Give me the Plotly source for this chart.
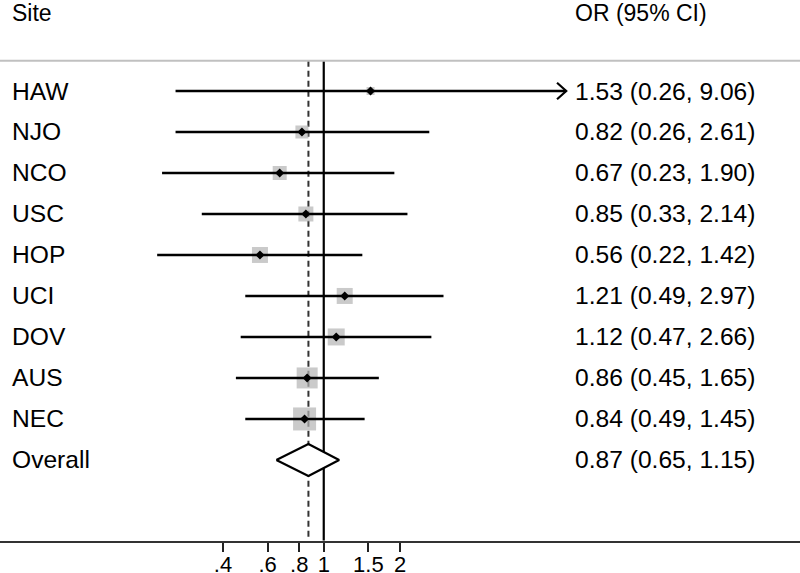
import plotly.graph_objects as go

# Forest plot data
sites = ["HAW", "NJO", "NCO", "USC", "HOP", "UCI", "DOV", "AUS", "NEC"]
odds = [1.53, 0.82, 0.67, 0.85, 0.56, 1.21, 1.12, 0.86, 0.84]
lower = [0.26, 0.26, 0.23, 0.33, 0.22, 0.49, 0.47, 0.45, 0.49]
upper = [9.06, 2.61, 1.90, 2.14, 1.42, 2.97, 2.66, 1.65, 1.45]
box_size = [8, 13, 14, 15, 16, 16, 17, 21, 23]   # study weights -> marker size

overall_label = "Overall"
overall_or, overall_lo, overall_hi = 0.87, 0.65, 1.15

tick_vals = [0.4, 0.6, 0.8, 1, 1.5, 2]
tick_text = [".4", ".6", ".8", "1", "1.5", "2"]

arrow_at = 8.0   # CIs wider than this get an arrow head

FONT = "Liberation Sans, Arial, sans-serif"
rows = list(range(len(sites)))
overall_row = len(sites)
top_rule = -0.74
y_bottom = 10.97

fig = go.Figure()

# reference lines: null effect (solid) and overall estimate (dashed)
fig.add_trace(go.Scatter(x=[1, 1], y=[top_rule, y_bottom], mode="lines",
                         line=dict(color="black", width=2.2), hoverinfo="skip"))
fig.add_trace(go.Scatter(x=[overall_or, overall_or], y=[top_rule, y_bottom], mode="lines",
                         line=dict(color="#333333", width=2, dash="6px,4px"), hoverinfo="skip"))

# weight boxes
fig.add_trace(go.Scatter(x=odds, y=rows, mode="markers",
                         marker=dict(symbol="square", size=box_size, color="#b4b4b4",
                                     line=dict(width=0)),
                         hoverinfo="skip"))

# confidence intervals
for i, (lo, hi) in enumerate(zip(lower, upper)):
    fig.add_trace(go.Scatter(x=[lo, hi], y=[i, i], mode="lines",
                             line=dict(color="black", width=2.5), hoverinfo="skip"))
    if hi > arrow_at:
        fig.add_trace(go.Scatter(x=[hi * 0.92, hi, hi * 0.92], y=[i - 0.2, i, i + 0.2],
                                 mode="lines", line=dict(color="black", width=2.2),
                                 hoverinfo="skip"))

# point estimates
fig.add_trace(go.Scatter(x=odds, y=rows, mode="markers",
                         marker=dict(symbol="diamond", size=7, color="black"),
                         hoverinfo="skip"))

# overall diamond
h = 0.39
fig.add_trace(go.Scatter(
    x=[overall_lo, overall_or, overall_hi, overall_or, overall_lo],
    y=[overall_row, overall_row - h, overall_row, overall_row + h, overall_row],
    mode="lines", fill="toself", fillcolor="white",
    line=dict(color="black", width=2.2), hoverinfo="skip"))

# header rule
fig.add_shape(type="line", xref="paper", x0=0, x1=1, yref="y", y0=top_rule, y1=top_rule,
              line=dict(color="#c0c0c0", width=2))

# text columns
ann = []
ann.append(dict(text="Site", x=10 / 800, y=-1.9, font_size=23))
ann.append(dict(text="OR (95% CI)", x=573 / 800, y=-1.9, font_size=23))
labels = sites + [overall_label]
ors = odds + [overall_or]
los = lower + [overall_lo]
his = upper + [overall_hi]
for i, (lab, o, lo, hi) in enumerate(zip(labels, ors, los, his)):
    ann.append(dict(text=lab, x=10 / 800, y=i, font_size=24.6))
    ann.append(dict(text=f"{o:.2f} ({lo:.2f}, {hi:.2f})", x=573 / 800, y=i, font_size=24.6))
for a in ann:
    fig.add_annotation(xref="paper", yref="y", xanchor="left", yanchor="middle",
                       showarrow=False, font=dict(color="black", family=FONT), **a)

fig.update_layout(
    width=800, height=573,
    margin=dict(l=0, r=0, t=0, b=0, autoexpand=False),
    plot_bgcolor="white", paper_bgcolor="white",
    showlegend=False,
    font=dict(family=FONT, color="black"),
    xaxis=dict(type="log", range=[-1.278, 1.880], domain=[0, 1], automargin=False,
               tickvals=tick_vals, ticktext=tick_text,
               ticks="outside", ticklen=9, tickwidth=2, tickcolor="#222222",
               ticklabelstandoff=-6,
               tickfont=dict(size=22, color="black", family=FONT),
               showline=True, linecolor="#333333", linewidth=2,
               showgrid=False, zeroline=False),
    yaxis=dict(range=[y_bottom, -2.22], domain=[0.0564, 1], automargin=False,
               visible=False, showgrid=False, zeroline=False),
)

# drop the default page margin so the chart sits at the window's corner
fig.write_html("out.html", config={"displayModeBar": False},
               post_script="document.body.style.margin='0';")
